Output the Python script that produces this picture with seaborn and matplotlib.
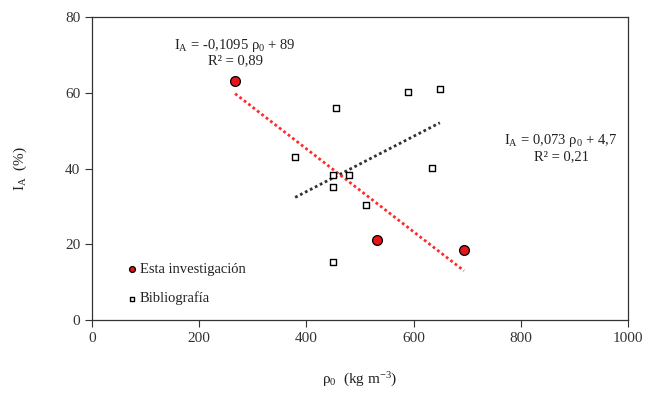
import numpy as np
import pandas as pd
import matplotlib
matplotlib.use("Agg")
import matplotlib.pyplot as plt
import seaborn as sns

# Data
inv_rho = [267, 532, 694]
inv_ia = [63.2, 21.0, 18.5]
bib_rho = [589, 649, 455, 379, 450, 480, 450, 635, 511, 450]
bib_ia = [60.1, 61.1, 56.1, 43.1, 38.2, 38.2, 35.2, 40.2, 30.3, 15.3]
# trend line coefficients (slope, intercept)
inv_fit = [-0.1095, 89]
bib_fit = [0.073, 4.7]
x_ticks = [0, 200, 400, 600, 800, 1000]
y_ticks = [0, 20, 40, 60, 80]

sns.set_theme(style="white")
plt.rcParams['font.family'] = ['Liberation Serif', 'DejaVu Serif']
plt.rcParams['mathtext.fontset'] = 'custom'
plt.rcParams['mathtext.rm'] = 'Liberation Serif'
plt.rcParams['mathtext.it'] = 'Liberation Serif:italic'

fig = plt.figure(figsize=(6.46, 3.95), dpi=100)
ax = fig.add_axes([92/646, 1-320/395, (628-92)/646, (320-17)/395])

df_inv = pd.DataFrame({"rho": inv_rho, "ia": inv_ia})
df_bib = pd.DataFrame({"rho": bib_rho, "ia": bib_ia})

# trend lines
xi = np.array([min(inv_rho), max(inv_rho)])
xb = np.array([min(bib_rho), max(bib_rho)])
sns.lineplot(x=xi, y=inv_fit[0]*xi + inv_fit[1], ax=ax, color="#ff2a2a",
             linestyle=(0, (1, 1)), linewidth=2.0, legend=False)
sns.lineplot(x=xb, y=bib_fit[0]*xb + bib_fit[1], ax=ax, color="#333333",
             linestyle=(0, (1, 1)), linewidth=2.0, legend=False)

sns.scatterplot(data=df_inv, x="rho", y="ia", ax=ax, color="#e8141c",
                edgecolor="black", linewidth=0.9, s=50, marker="o",
                label="Esta investigación", zorder=5)
sns.scatterplot(data=df_bib, x="rho", y="ia", ax=ax, color="white",
                edgecolor="black", linewidth=1.0, s=16, marker="s",
                label="Bibliografía", zorder=5)

ax.set_xlim(0, 1000)
ax.set_ylim(0, 80)
ax.set_xticks(x_ticks)
ax.set_yticks(y_ticks)
ax.tick_params(axis='both', direction='out', length=5, width=0.8,
               colors='#333333', labelsize=11, bottom=True, left=True)
for lab in ax.get_xticklabels() + ax.get_yticklabels():
    lab.set_color('#333333')
for s in ax.spines.values():
    s.set_color('#333333')
    s.set_linewidth(0.9)

ax.set_xlabel(r"$\mathregular{\rho_0}$  (kg m$\mathregular{^{-3}}$)", fontsize=11,
              color='#222222', labelpad=19)
ax.set_ylabel(r"$\mathregular{I_A}$  (%)", fontsize=11, color='#222222', labelpad=26)

ax.text(267, 72.5, r"$\mathregular{I_A}$ = -0,1095 $\mathregular{\rho_0}$ + 89",
        ha='center', va='center', fontsize=10.5, color='#222222')
ax.text(267, 68.5, "R² = 0,89", ha='center', va='center', fontsize=10.5, color='#222222')
ax.text(875, 47.3, r"$\mathregular{I_A}$ = 0,073 $\mathregular{\rho_0}$ + 4,7",
        ha='center', va='center', fontsize=10.5, color='#222222')
ax.text(875, 43.2, "R² = 0,21", ha='center', va='center', fontsize=10.5, color='#222222')

leg = ax.legend(loc='lower left', bbox_to_anchor=(0.036, 0.005), frameon=False,
                fontsize=10.5, handletextpad=0.05, labelspacing=1.05,
                markerscale=0.6, handlelength=1.0)
for t in leg.get_texts():
    t.set_color('#222222')

fig.savefig("out.png", dpi=100)
